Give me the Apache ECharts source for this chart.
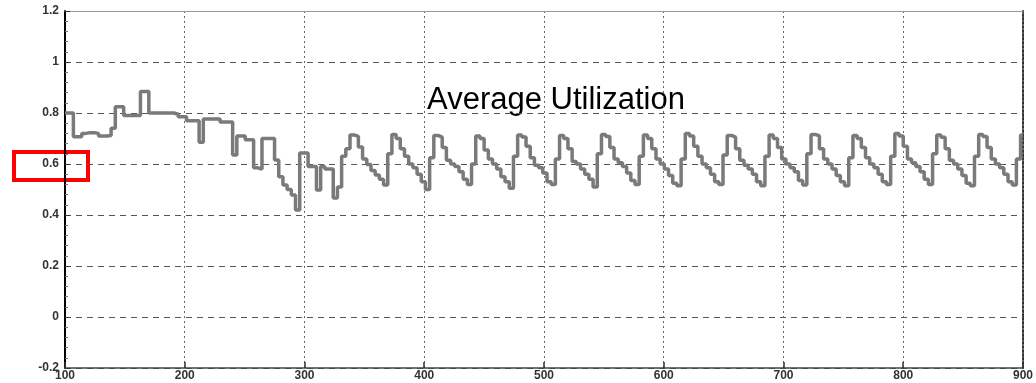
<!DOCTYPE html>
<html>
<head>
<meta charset="utf-8">
<script src="https://cdn.jsdelivr.net/npm/echarts@6/dist/echarts.min.js"></script>
<style>
  html, body { margin: 0; padding: 0; background: #ffffff; }
  #chart { width: 1036px; height: 383px; }
</style>
</head>
<body>
<div id="chart"></div>
<script>
// Sampling of the utilization trace along the time axis
const startTime = 100;
const sampleWidth = 3.5;

// Start-up phase, before the daily rhythm settles
const warmupUtilization = [
  0.80, 0.80, 0.707, 0.707, 0.72, 0.723, 0.723, 0.72, 0.71, 0.71,
  0.712, 0.74, 0.825, 0.825, 0.79, 0.79, 0.79, 0.79, 0.884, 0.884,
  0.80, 0.80, 0.80, 0.80, 0.80, 0.80, 0.795, 0.785, 0.785, 0.77,
  0.77, 0.77, 0.685, 0.776, 0.776, 0.776, 0.776, 0.765, 0.765, 0.765,
  0.635, 0.71, 0.71, 0.695, 0.695, 0.585, 0.58, 0.70, 0.70, 0.70,
  0.616, 0.55, 0.518, 0.50, 0.478, 0.42, 0.643, 0.643, 0.59, 0.59,
  0.498, 0.59, 0.58, 0.58, 0.467, 0.51, 0.63, 0.66
];

// Recurring cycles, one row per cycle
const cycleUtilization = [
  [0.714, 0.708, 0.667, 0.620, 0.598, 0.575, 0.557, 0.540, 0.518, 0.640],
  [0.716, 0.700, 0.660, 0.630, 0.600, 0.585, 0.560, 0.530, 0.500, 0.625],
  [0.712, 0.705, 0.665, 0.615, 0.600, 0.590, 0.570, 0.540, 0.520, 0.600],
  [0.710, 0.700, 0.655, 0.620, 0.600, 0.580, 0.550, 0.530, 0.505, 0.630],
  [0.714, 0.706, 0.670, 0.625, 0.595, 0.585, 0.565, 0.530, 0.520, 0.620],
  [0.712, 0.700, 0.660, 0.610, 0.600, 0.580, 0.560, 0.540, 0.510, 0.640],
  [0.716, 0.708, 0.665, 0.620, 0.605, 0.590, 0.565, 0.535, 0.520, 0.630],
  [0.714, 0.700, 0.660, 0.620, 0.600, 0.580, 0.555, 0.525, 0.515, 0.620],
  [0.720, 0.710, 0.670, 0.630, 0.600, 0.585, 0.560, 0.530, 0.520, 0.635],
  [0.712, 0.705, 0.660, 0.615, 0.595, 0.580, 0.560, 0.530, 0.515, 0.630],
  [0.714, 0.700, 0.665, 0.620, 0.600, 0.585, 0.570, 0.535, 0.518, 0.640],
  [0.716, 0.710, 0.660, 0.620, 0.600, 0.580, 0.555, 0.530, 0.515, 0.625],
  [0.712, 0.700, 0.665, 0.625, 0.600, 0.585, 0.560, 0.530, 0.520, 0.630],
  [0.720, 0.710, 0.670, 0.620, 0.605, 0.590, 0.570, 0.540, 0.520, 0.640],
  [0.714, 0.705, 0.660, 0.615, 0.600, 0.580, 0.555, 0.525, 0.515, 0.630],
  [0.716, 0.708, 0.665, 0.620, 0.600, 0.585, 0.560, 0.530, 0.518, 0.620]
];
const finalUtilization = [0.714];

const xTickLabels = ['100', '200', '300', '400', '500', '600', '700', '800', '900'];
const yTickLabels = ['-0.2', '0', '0.2', '0.4', '0.6', '0.8', '1', '1.2'];

// Build the [time, value] pairs for the step line
const values = warmupUtilization.concat(...cycleUtilization, finalUtilization);
const lineData = values.map((v, i) => [startTime + i * sampleWidth, v]);
lineData.push([900, values[values.length - 1]]);

const chart = echarts.init(document.getElementById('chart'), null, { renderer: 'canvas' });

const labelFont = { fontFamily: 'Liberation Sans', fontWeight: 'bold', fontSize: 12, color: '#333' };

chart.setOption({
  animation: false,
  backgroundColor: '#ffffff',
  grid: { left: 65, right: 11, top: 11, bottom: 15, containLabel: false },
  xAxis: [{
    type: 'value', min: 100, max: 900, interval: 100,
    axisLine: { show: true, onZero: false, lineStyle: { color: '#444', width: 1.5 } },
    axisTick: { show: true, inside: true, length: 6, lineStyle: { color: '#333', width: 1.5 } },
    axisLabel: Object.assign({ margin: 2, formatter: (v) => xTickLabels[Math.round((v - 100) / 100)] }, labelFont),
    splitLine: { show: true, lineStyle: { color: '#666', type: [2, 3], width: 1 } }
  }, {
    type: 'value', position: 'top', min: 100, max: 900, interval: 100,
    axisLine: { show: true, onZero: false, lineStyle: { color: '#999', width: 1 } },
    axisTick: { show: false }, axisLabel: { show: false }, splitLine: { show: false }
  }],
  yAxis: [{
    type: 'value', min: -0.2, max: 1.2, interval: 0.2,
    axisLine: { show: true, onZero: false, lineStyle: { color: '#000', width: 2 } },
    axisTick: { show: true, inside: true, length: 5, lineStyle: { color: '#333' } },
    minorTick: { show: true, splitNumber: 5, length: 3, lineStyle: { color: '#777' } },
    axisLabel: Object.assign({ margin: 6, formatter: (v) => yTickLabels[Math.round((v + 0.2) / 0.2)] }, labelFont),
    splitLine: { show: true, lineStyle: { color: '#555', type: [6, 5], width: 1 } }
  }, {
    type: 'value', position: 'right', min: -0.2, max: 1.2, interval: 0.2,
    axisLine: { show: true, onZero: false, lineStyle: { color: '#333', width: 2, type: [2, 2] } },
    axisTick: { show: false }, axisLabel: { show: false }, splitLine: { show: false }
  }],
  series: [{
    type: 'line',
    step: 'end',
    data: lineData,
    showSymbol: false,
    lineStyle: { color: '#7a7a7a', width: 3.5 }
  }],
  graphic: [{
    type: 'text',
    x: 556, y: 100,
    style: {
      text: 'Average Utilization',
      font: '31px "Liberation Sans"',
      fill: '#000',
      textAlign: 'center',
      textVerticalAlign: 'middle'
    }
  }, {
    type: 'rect',
    shape: { x: 14, y: 152, width: 74, height: 28 },
    style: { fill: 'none', stroke: '#ff0000', lineWidth: 4 }
  }]
});
</script>
</body>
</html>
